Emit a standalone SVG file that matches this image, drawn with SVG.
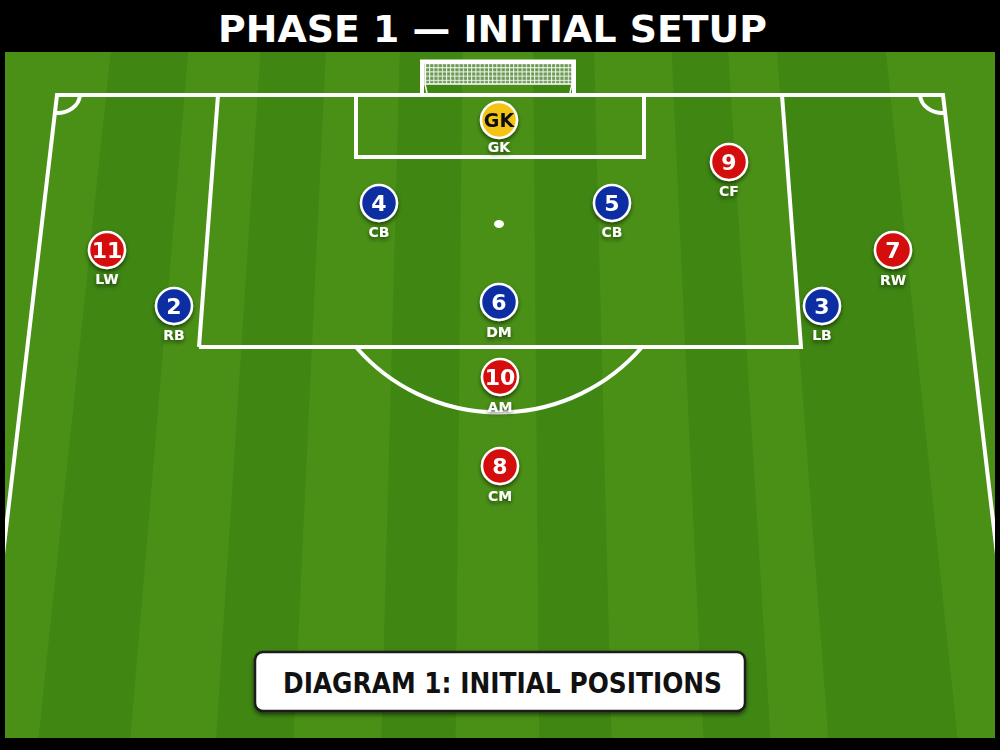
<svg xmlns="http://www.w3.org/2000/svg" width="1000" height="750" viewBox="0 0 1000 750">
<style>
.line{fill:none;stroke:#ffffff;stroke-width:4;stroke-linejoin:miter}
.dark{fill:#3f8613}
.disc{stroke:#ffffff;stroke-width:2.5}
.red{fill:#d40a0b}
.blue{fill:#0c2fa3}
.yellow{fill:#f3c416}
.num{font-family:"DejaVu Sans","Liberation Sans",sans-serif;font-weight:bold;font-size:22px;fill:#ffffff;text-anchor:middle}
.gk{fill:#111111;font-size:19px}
.lab{font-family:"DejaVu Sans","Liberation Sans",sans-serif;font-weight:bold;font-size:14px;fill:#ffffff;text-anchor:middle}
</style>
<defs>
<clipPath id="fieldClip"><rect x="5" y="52" width="990" height="686"/></clipPath>
<pattern id="net" patternUnits="userSpaceOnUse" width="4.2" height="4.2" x="425" y="63">
<rect width="4.2" height="4.2" fill="#6c9a55"/>
<path d="M0,0.5H4.2M0.5,0V4.2" stroke="#ffffff" stroke-width="1" opacity="0.9"/>
</pattern>
<filter id="sh" x="-30%" y="-30%" width="160%" height="170%">
<feDropShadow dx="0" dy="2.5" stdDeviation="2" flood-color="#000" flood-opacity="0.55"/>
</filter>
</defs>
<rect width="1000" height="750" fill="#000000"/>
<text x="492.5" y="42" font-family="DejaVu Sans,Liberation Sans,sans-serif" font-weight="bold" font-size="38" fill="#ffffff" text-anchor="middle" textLength="549" lengthAdjust="spacingAndGlyphs">PHASE 1 — INITIAL SETUP</text>
<g id="pitch" clip-path="url(#fieldClip)">
<rect x="5" y="52" width="990" height="686" fill="#4a9017"/>
<polygon class="dark" points="110.7,52 188.2,52 130.4,738 38.5,738"/>
<polygon class="dark" points="260.5,52 325.8,52 293.5,738 216.1,738"/>
<polygon class="dark" points="399.8,52 462.5,52 455.6,738 381.3,738"/>
<polygon class="dark" points="533.1,52 594.1,52 611.5,738 539.2,738"/>
<polygon class="dark" points="671.6,52 728.2,52 770.5,738 703.4,738"/>
<polygon class="dark" points="777,52 885.9,52 957.4,738 828.3,738"/>
<path class="line" d="M-20,750 L57,95 H943 L1020,750"/>
<path class="line" d="M199,347 L218,95 M782,95 L801,347 H199"/>
<path class="line" d="M356,95 V157 H644 V95"/>
<path class="line" d="M356,347 A189,189 0 0 0 642,347"/>
<path class="line" d="M80,95 A23,19 0 0 1 55,113"/>
<path class="line" d="M920,95 A23,19 0 0 0 945,113"/>
<ellipse cx="499" cy="224" rx="5" ry="4" fill="#ffffff"/>
</g>
<g id="goal">
<rect x="425" y="63" width="147" height="21" fill="url(#net)" stroke="#ffffff" stroke-width="1.5"/>
<path d="M422,93 V61.5 H574 V93" fill="none" stroke="#ffffff" stroke-width="4"/>
<path d="M425,84 L427,93 M572,84 L570,93" stroke="#ffffff" stroke-width="1.5" fill="none"/>
</g>
<g id="connectors"></g>
<g id="p-gk" filter="url(#sh)"><circle class="disc yellow" cx="499" cy="120" r="18"/><text class="num gk" x="499" y="127">GK</text><text class="lab" x="499" y="152">GK</text></g>
<g id="p-9" filter="url(#sh)"><circle class="disc red" cx="729" cy="162" r="18"/><text class="num" x="729" y="170">9</text><text class="lab" x="729" y="196">CF</text></g>
<g id="p-4" filter="url(#sh)"><circle class="disc blue" cx="379" cy="203" r="18"/><text class="num" x="379" y="211">4</text><text class="lab" x="379" y="237">CB</text></g>
<g id="p-5" filter="url(#sh)"><circle class="disc blue" cx="612" cy="203" r="18"/><text class="num" x="612" y="211">5</text><text class="lab" x="612" y="237">CB</text></g>
<g id="p-11" filter="url(#sh)"><circle class="disc red" cx="107" cy="250" r="18"/><text class="num" x="107" y="258">11</text><text class="lab" x="107" y="284">LW</text></g>
<g id="p-7" filter="url(#sh)"><circle class="disc red" cx="893" cy="250" r="18"/><text class="num" x="893" y="258">7</text><text class="lab" x="893" y="285">RW</text></g>
<g id="p-2" filter="url(#sh)"><circle class="disc blue" cx="174" cy="306" r="18"/><text class="num" x="174" y="314">2</text><text class="lab" x="174" y="340">RB</text></g>
<g id="p-6" filter="url(#sh)"><circle class="disc blue" cx="499" cy="302" r="18"/><text class="num" x="499" y="310">6</text><text class="lab" x="499" y="337">DM</text></g>
<g id="p-3" filter="url(#sh)"><circle class="disc blue" cx="822" cy="306" r="18"/><text class="num" x="822" y="314">3</text><text class="lab" x="822" y="340">LB</text></g>
<g id="p-10" filter="url(#sh)"><circle class="disc red" cx="500" cy="377" r="18"/><text class="num" x="500" y="385">10</text><text class="lab" x="500" y="412">AM</text></g>
<g id="p-8" filter="url(#sh)"><circle class="disc red" cx="500" cy="466" r="18"/><text class="num" x="500" y="474">8</text><text class="lab" x="500" y="501">CM</text></g>
<g id="caption">
<rect x="255" y="652" width="490" height="59" rx="8" ry="8" fill="#ffffff" stroke="#1a1a1a" stroke-width="2.5" filter="url(#sh)"/>
<text x="502.5" y="693" font-family="DejaVu Sans,Liberation Sans,sans-serif" font-weight="bold" font-size="29" fill="#111111" text-anchor="middle" textLength="439" lengthAdjust="spacingAndGlyphs">DIAGRAM 1: INITIAL POSITIONS</text>
</g>
</svg>
